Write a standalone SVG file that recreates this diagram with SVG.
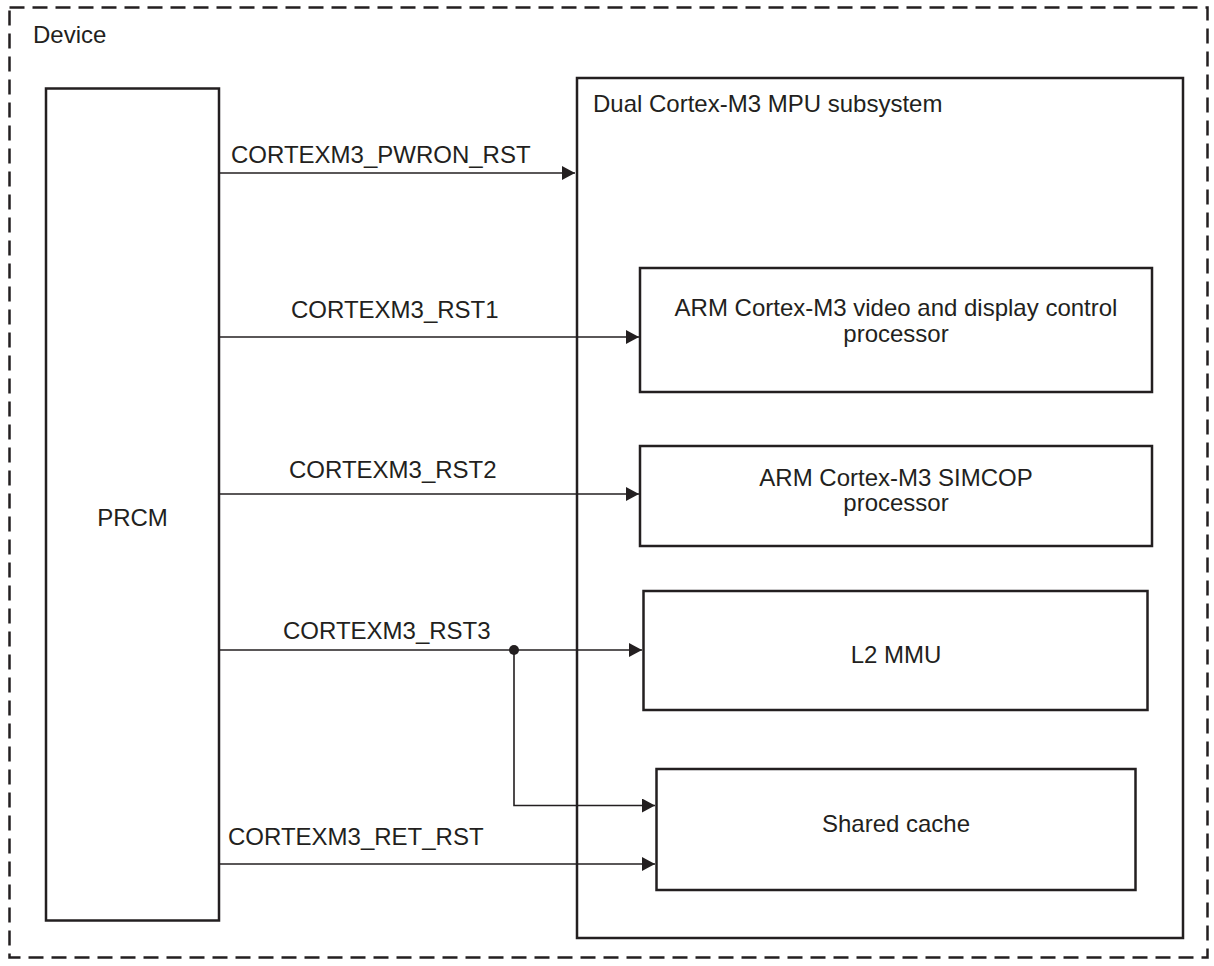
<svg xmlns="http://www.w3.org/2000/svg" width="1214" height="966" viewBox="0 0 1214 966">
<style>
text{font-family:"Liberation Sans",Arial,sans-serif;font-size:24px;fill:#231f20}
.c{text-anchor:middle}
.box{fill:#fff;stroke:#231f20;stroke-width:2.5}
.wire{fill:none;stroke:#231f20;stroke-width:1.6}
</style>
<defs>
<marker id="ah" markerUnits="userSpaceOnUse" markerWidth="13" markerHeight="14" refX="13" refY="7" orient="auto">
<path d="M0,0 L13,7 L0,14 Z" fill="#231f20"/>
</marker>
</defs>
<rect width="1214" height="966" fill="#fff"/>
<g id="device">
<rect x="9.5" y="7.5" width="1198" height="950" fill="none" stroke="#231f20" stroke-width="2.5" stroke-dasharray="15 8"/>
<text x="33" y="43">Device</text>
</g>
<g id="prcm">
<rect class="box" x="46" y="88.5" width="173" height="832" stroke-width="3"/>
<text class="c" x="132.5" y="526">PRCM</text>
</g>
<g id="mpu">
<rect class="box" x="577" y="78" width="606" height="860" stroke-width="3.5"/>
<text x="593" y="112">Dual Cortex-M3 MPU subsystem</text>
</g>
<g id="m3video">
<rect class="box" x="640" y="268" width="512" height="124"/>
<text class="c" x="896" y="316">ARM Cortex-M3 video and display control</text>
<text class="c" x="896" y="342">processor</text>
</g>
<g id="m3simcop">
<rect class="box" x="640" y="446" width="512" height="100"/>
<text class="c" x="896" y="486">ARM Cortex-M3 SIMCOP</text>
<text class="c" x="896" y="511">processor</text>
</g>
<g id="l2mmu">
<rect class="box" x="643.5" y="591" width="504" height="119"/>
<text class="c" x="896" y="663">L2 MMU</text>
</g>
<g id="cache">
<rect class="box" x="656.5" y="769" width="479" height="121"/>
<text class="c" x="896" y="832">Shared cache</text>
</g>
<g id="connectors">
<line class="wire" x1="219" y1="173" x2="575" y2="173" marker-end="url(#ah)"/>
<text x="231" y="163">CORTEXM3_PWRON_RST</text>
<line class="wire" x1="219" y1="337" x2="639" y2="337" marker-end="url(#ah)"/>
<text x="291" y="318">CORTEXM3_RST1</text>
<line class="wire" x1="219" y1="494" x2="639" y2="494" marker-end="url(#ah)"/>
<text x="289" y="478">CORTEXM3_RST2</text>
<line class="wire" x1="219" y1="650" x2="642" y2="650" marker-end="url(#ah)"/>
<text x="283" y="639">CORTEXM3_RST3</text>
<polyline class="wire" points="514,650 514,805.5 655,805.5" marker-end="url(#ah)"/>
<circle cx="514" cy="650" r="5" fill="#231f20"/>
<line class="wire" x1="219" y1="864" x2="655" y2="864" marker-end="url(#ah)"/>
<text x="228" y="845">CORTEXM3_RET_RST</text>
</g>
</svg>
